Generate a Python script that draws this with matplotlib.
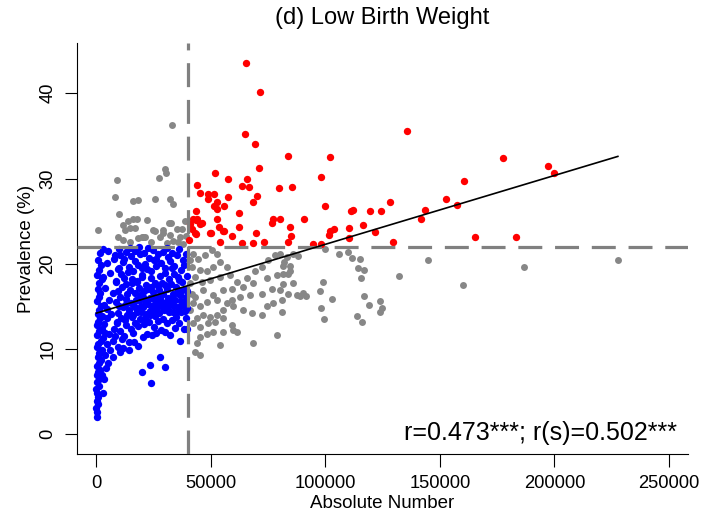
import numpy as np
import matplotlib
matplotlib.use("Agg")
import matplotlib.pyplot as plt

plt.rcParams["font.family"] = ["Liberation Sans", "DejaVu Sans"]

# values (x = absolute number, y = prevalence %)
blue_points = [
    # narrow column near x = 0
    (300, 2.0), (500, 2.6), (200, 3.1), (700, 3.5), (400, 3.9), (900, 4.4), (500, 4.9),
    (200, 5.3), (1100, 5.7), (600, 6.1), (1400, 6.5), (300, 6.9), (900, 7.3), (1800, 7.6),
    (500, 8.0), (1200, 8.4), (2200, 8.7), (700, 9.1), (1500, 9.5), (2600, 9.9), (400, 10.2),
    (1000, 10.6), (2000, 11.0), (3000, 11.3), (600, 11.7), (1400, 12.1), (2400, 12.4),
    (300, 12.8), (900, 13.2), (1800, 13.6), (700, 14.1), (1300, 14.6), (2200, 15.1),
    (500, 15.6), (1100, 16.1), (1900, 16.6), (800, 17.1), (1500, 17.7), (2600, 18.2),
    (400, 18.7), (1200, 19.3), (2000, 19.9), (700, 20.5), (1600, 21.3), (3000, 21.7),
    (3500, 6.5), (4200, 7.8), (5200, 8.4), (3800, 9.3), (6100, 9.9), (4600, 10.6),
    (7200, 11.0), (5500, 11.8), (3300, 12.9), (8000, 12.4), (4800, 13.6), (6600, 14.1),
    (3600, 15.2), (9000, 13.2), (5800, 15.8), (4100, 17.2), (7400, 16.6), (3200, 18.4),
    (6200, 18.9), (8600, 17.9), (4900, 20.1), (7800, 20.6), (5400, 21.5), (9500, 19.4),
    (10500, 21.0), (2800, 13.9), (3900, 11.9), (2700, 7.0), (3100, 4.9), (5000, 14.7),
    # low outliers
    (19900, 7.3), (23600, 8.1), (27900, 9.1), (30100, 7.9), (23800, 6.0), (36600, 10.9),
    (39600, 12.4), (7300, 9.1), (10400, 9.6), (11900, 10.1), (18500, 10.3), (14600, 9.9),
    (16500, 10.8),
    # main cluster
    (8300, 11.5), (9100, 13.0), (9700, 14.2), (8600, 15.5), (9400, 16.8), (8900, 18.0),
    (9900, 19.5), (8200, 21.0), (9500, 10.2),
    (10300, 12.1), (11100, 13.6), (11700, 14.9), (10600, 16.1), (11400, 17.3), (10900, 18.8),
    (11900, 20.2), (10200, 21.7), (11200, 11.2),
    (12300, 11.5), (13100, 12.8), (13700, 14.0), (12600, 15.2), (13400, 16.4), (12900, 17.6),
    (13900, 19.0), (12200, 20.6), (13200, 21.4), (12800, 13.4),
    (14300, 10.8), (15100, 12.4), (15700, 13.8), (14600, 14.6), (15400, 15.4), (14900, 16.9),
    (15900, 18.2), (14200, 19.6), (15200, 20.9), (14800, 21.8), (15600, 17.7),
    (16300, 11.9), (17100, 13.1), (17700, 14.3), (16600, 15.0), (17400, 15.8), (16900, 16.6),
    (17900, 17.9), (16200, 19.2), (17200, 20.3), (16800, 21.5), (17500, 14.8),
    (18300, 12.7), (19100, 13.5), (19700, 14.4), (18600, 15.7), (19400, 16.3), (18900, 17.2),
    (19900, 18.5), (18200, 19.9), (19200, 21.1), (18800, 22.0), (19500, 15.1),
    (20300, 11.4), (21100, 12.9), (21700, 14.1), (20600, 14.9), (21400, 15.6), (20900, 16.8),
    (21900, 17.5), (20200, 18.7), (21200, 20.0), (20800, 21.3), (21500, 13.7), (20500, 16.1),
    (22300, 11.8), (23100, 13.2), (23700, 14.5), (22600, 15.3), (23400, 16.0), (22900, 17.1),
    (23900, 18.3), (22200, 19.4), (23200, 20.7), (22800, 21.9), (23500, 14.0),
    (24300, 11.6), (25100, 12.6), (25700, 13.9), (24600, 14.7), (25400, 15.9), (24900, 16.7),
    (25900, 17.8), (24200, 19.1), (25200, 20.4), (24800, 21.6), (25500, 15.2),
    (26300, 11.9), (27100, 13.3), (27700, 14.2), (26600, 15.4), (27400, 16.2), (26900, 17.4),
    (27900, 18.6), (26200, 19.8), (27200, 21.2), (26800, 14.8), (27500, 16.9),
    (28300, 12.2), (29100, 13.5), (29700, 14.6), (28600, 15.5), (29400, 16.5), (28900, 17.7),
    (29900, 18.9), (28200, 20.1), (29200, 21.4), (28800, 15.0),
    (30300, 12.0), (31100, 13.0), (31700, 14.3), (30600, 15.1), (31400, 16.0), (30900, 17.0),
    (31900, 18.2), (30200, 19.5), (31200, 20.8), (30800, 21.8), (31500, 14.7),
    (32300, 11.7), (33100, 13.4), (33700, 14.4), (32600, 15.3), (33400, 16.4), (32900, 17.6),
    (33900, 18.8), (32200, 20.3), (33200, 21.3), (32800, 15.8),
    (34300, 12.5), (35100, 13.8), (35700, 14.9), (34600, 15.7), (35400, 16.6), (34900, 17.3),
    (35900, 18.4), (34200, 19.7), (35200, 21.0), (34800, 14.2),
    (36300, 13.1), (37100, 14.4), (37700, 15.2), (36600, 16.3), (37400, 17.9), (36900, 19.3),
    (37900, 20.5), (36200, 21.7), (37200, 15.6),
    (38300, 12.4), (39100, 13.6), (39700, 14.8), (38600, 15.5), (39400, 16.1), (38900, 17.1),
    (39900, 18.6), (38200, 19.9), (39200, 21.2), (38800, 14.5), (39500, 16.8),
    (10000, 15.0), (13000, 15.9), (16000, 14.0), (19000, 16.0), (22000, 15.7), (25000, 14.3),
    (28000, 16.0), (31000, 15.5), (34000, 15.0), (37000, 16.8), (39000, 15.2), (24000, 17.3),
    (30000, 17.5), (36000, 18.1), (12000, 18.3), (18000, 18.0), (20000, 19.5), (26000, 20.6),
    (33000, 19.5),
]

red_points = [
    (65300, 43.6), (71600, 40.2), (65000, 35.2), (69400, 34.0), (83600, 32.7), (71000, 31.2),
    (52000, 30.7), (57700, 30.0), (65700, 29.9), (43900, 29.2), (63600, 29.1), (66700, 29.0),
    (79700, 28.9), (85700, 29.0), (45400, 28.3), (48700, 28.2), (51600, 28.2), (57400, 27.8),
    (70200, 28.0), (48700, 27.6), (52600, 27.2), (51500, 26.8), (56000, 26.8), (68400, 27.3),
    (52600, 26.4), (43500, 26.2), (62500, 26.0), (77100, 25.3), (80300, 25.3), (42500, 25.3),
    (41000, 24.7), (43600, 25.1), (46100, 24.8), (52600, 25.3), (53800, 24.3), (62500, 24.3),
    (76800, 24.8), (84800, 24.3), (41900, 24.1), (50000, 23.6), (56000, 23.8), (59200, 23.3),
    (69800, 23.6), (84900, 23.3), (43600, 23.5), (44200, 25.3), (45400, 24.7), (43300, 23.6),
    (40600, 22.8), (49700, 23.6), (55500, 23.8), (54100, 22.6), (63600, 22.4), (68600, 22.4),
    (73400, 22.6), (83900, 22.6),
    (135500, 35.6), (102100, 32.5), (177400, 32.4), (197100, 31.5), (199800, 30.6),
    (98000, 30.2), (160400, 29.7), (100000, 26.8), (128300, 27.2), (152600, 27.6),
    (111100, 26.2), (112000, 26.3), (119500, 26.2), (124500, 26.2), (143500, 26.3),
    (141900, 25.2), (157500, 26.9), (90700, 25.2), (102100, 23.8), (104000, 24.1),
    (110500, 24.2), (116600, 24.5), (121600, 23.7), (101800, 23.4), (110500, 23.0),
    (94800, 22.3), (98000, 22.3), (129700, 22.5), (165400, 23.2), (183300, 23.2),
]

grey_points = [
    # small number, high prevalence
    (33000, 36.3), (30100, 31.1), (30500, 30.7), (27600, 30.1), (9300, 29.8), (8300, 27.8),
    (16300, 27.4), (18200, 27.5), (25700, 27.6), (32300, 27.6), (33500, 27.0), (9900, 25.9),
    (14100, 25.0), (17700, 25.2), (22100, 25.1), (31900, 24.8), (1000, 24.0), (12700, 24.0),
    (14800, 24.2), (17000, 24.2), (25700, 23.8), (29100, 24.0), (29400, 23.6), (32300, 23.4),
    (35200, 24.1), (37400, 24.1), (9700, 23.2), (19900, 23.2), (20600, 23.2), (16300, 25.3),
    (11900, 24.5), (25000, 24.0), (32600, 24.8), (11900, 22.8), (14800, 22.6), (18500, 23.0),
    (21400, 23.2), (23900, 22.6), (27900, 23.2), (31100, 22.4), (33400, 22.7), (35900, 22.5),
    (36600, 23.1), (38800, 25.0), (39200, 23.3), (38000, 22.3),
    # large number, low prevalence
    (42500, 21.2), (44600, 20.6), (47600, 21.0), (50500, 21.6), (52700, 21.2), (54100, 20.2),
    (57000, 19.6), (51200, 19.6), (48300, 19.1), (45400, 19.3), (43200, 18.5), (41000, 17.7),
    (46100, 17.9), (49700, 18.1), (54100, 18.5), (58500, 18.7), (61400, 17.9), (65700, 18.3),
    (69400, 19.1), (72300, 19.6), (75200, 20.4), (78100, 21.0), (80300, 21.2), (83200, 20.8),
    (86100, 21.2), (81700, 19.8), (84600, 19.1), (78800, 18.7), (74500, 18.3), (68600, 17.7),
    (64300, 17.3), (59200, 17.1), (55500, 16.9), (51200, 16.3), (46800, 16.9), (43200, 16.1),
    (42500, 15.4), (45400, 15.0), (48300, 15.5), (52700, 15.7), (57000, 15.4), (59900, 15.0),
    (64300, 14.6), (67900, 14.2), (72300, 14.0), (74500, 15.0), (77400, 15.4), (81000, 15.7),
    (83900, 16.5), (87600, 16.3), (86100, 17.7), (80300, 16.9), (76600, 17.1), (72300, 16.5),
    (67200, 16.3), (62800, 16.1), (59200, 15.7), (55500, 14.6), (52700, 14.0), (49700, 13.8),
    (46800, 14.0), (43900, 13.6), (42500, 13.0), (45400, 12.6), (49000, 13.0), (51900, 13.2),
    (55500, 13.6), (59200, 12.8), (61400, 12.0), (55500, 12.0), (51200, 12.0), (48300, 11.8),
    (45400, 11.4), (43900, 10.7), (54100, 10.5), (59900, 12.2), (68600, 10.7), (78800, 11.6),
    (43200, 9.7), (45400, 9.3), (41000, 14.6), (41700, 16.5), (41700, 19.6), (41000, 20.4),
    (88000, 20.9), (84600, 19.8), (82000, 20.2), (81700, 18.8), (83900, 18.8), (81500, 17.6),
    (81000, 14.4), (99900, 21.7), (106000, 21.1), (110100, 21.4), (111500, 20.7),
    (115200, 20.6), (114200, 19.5), (116900, 19.3), (115600, 18.3), (98900, 17.9),
    (97700, 16.8), (89000, 16.2), (90500, 16.6), (91600, 16.2), (103100, 15.9), (116900, 16.2),
    (123900, 15.6), (124900, 14.8), (123900, 14.3), (119200, 15.2), (98300, 14.8),
    (99300, 13.5), (113700, 13.9), (116200, 13.2), (132200, 18.6), (144700, 20.5),
    (160000, 17.5), (186700, 19.6), (227700, 20.5),
]

# regression line
fit_intercept = 14.2
fit_slope = 8.08e-5
cut_x = 40000
cut_y = 22

xticks = [0, 50000, 100000, 150000, 200000, 250000]
yticks = [0, 10, 20, 30, 40]
title = "(d) Low Birth Weight"
xlabel = "Absolute Number"
ylabel = "Prevalence (%)"
stat_text = "r=0.473***; r(s)=0.502***"

grey = np.array(grey_points)
blue = np.array(blue_points)
red = np.array(red_points)

fig = plt.figure(figsize=(7.05, 5.16), dpi=100)
ax = fig.add_axes([77 / 705, 62 / 516, 611 / 705, 411 / 516])

ax.scatter(grey[:, 0], grey[:, 1], s=25, color="#878787", linewidths=0, zorder=2)
ax.scatter(blue[:, 0], blue[:, 1], s=28, color="#0000ff", linewidths=0, zorder=3)
ax.scatter(red[:, 0], red[:, 1], s=28, color="#ff0000", linewidths=0, zorder=3)

dash = (7.5, 4)
ax.axvline(cut_x, color="#808080", lw=2.3, dashes=dash, zorder=4)
ax.axhline(cut_y, color="#808080", lw=2.3, dashes=dash, zorder=4)

all_x = np.concatenate([grey[:, 0], blue[:, 0], red[:, 0]])
xs = np.array([all_x.min(), all_x.max()])
ax.plot(xs, fit_intercept + fit_slope * xs, color="black", lw=1.2, zorder=5)

ax.set_xlim(-8290, 258300)
ax.set_ylim(-2.31, 45.9)
ax.set_xticks(xticks)
ax.set_xticklabels([str(v) for v in xticks])
ax.set_yticks(yticks)
ax.set_yticklabels([str(v) for v in yticks], rotation=90, va="center")

for side in ["top", "right"]:
    ax.spines[side].set_visible(False)
for side in ["left", "bottom"]:
    ax.spines[side].set_linewidth(0.8)

ax.tick_params(direction="out", length=9, width=0.8, labelsize=13.2, pad=6)

ax.set_title(title, fontsize=17, pad=14)
ax.set_xlabel(xlabel, fontsize=13.5, labelpad=2)
ax.set_ylabel(ylabel, fontsize=13.5, labelpad=3)

ax.text(0.982, 0.051, stat_text, transform=ax.transAxes, ha="right", va="center",
        fontsize=18)

fig.savefig("out.png", dpi=100)
